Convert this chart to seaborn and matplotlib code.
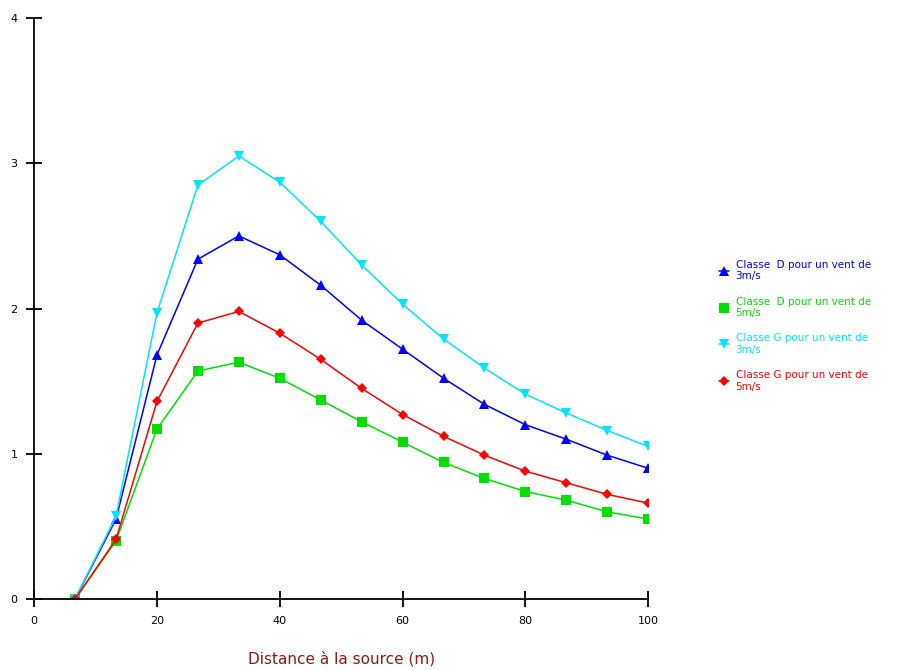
import pandas as pd
import matplotlib
matplotlib.use("Agg")
import matplotlib.pyplot as plt
import seaborn as sns

# Data
distance = [6.67, 13.33, 20, 26.67, 33.33, 40, 46.67, 53.33, 60, 66.67, 73.33, 80, 86.67, 93.33, 100]
d_3ms = [0.0, 0.55, 1.68, 2.34, 2.50, 2.37, 2.16, 1.92, 1.72, 1.52, 1.34, 1.20, 1.10, 0.99, 0.90]
d_5ms = [0.0, 0.40, 1.17, 1.57, 1.63, 1.52, 1.37, 1.22, 1.08, 0.94, 0.83, 0.74, 0.68, 0.60, 0.55]
g_3ms = [0.0, 0.57, 1.97, 2.85, 3.05, 2.87, 2.60, 2.30, 2.03, 1.79, 1.59, 1.41, 1.28, 1.16, 1.05]
g_5ms = [0.0, 0.41, 1.36, 1.90, 1.98, 1.83, 1.65, 1.45, 1.27, 1.12, 0.99, 0.88, 0.80, 0.72, 0.66]

labels = ["Classe  D pour un vent de\n3m/s", "Classe  D pour un vent de\n5m/s",
          "Classe G pour un vent de\n3m/s", "Classe G pour un vent de\n5m/s"]
series = [d_3ms, d_5ms, g_3ms, g_5ms]
colors = ["#0000ff", "#00e000", "#00e5ff", "#ff0000"]
markers = ["^", "s", "v", "D"]

df = pd.concat([pd.DataFrame({"x": distance, "y": s, "serie": lab}) for lab, s in zip(labels, series)])

sns.set_style("white")
fig = plt.figure(figsize=(8.99, 6.70), dpi=100)
ax = fig.add_axes([0.038, 0.106, 0.683, 0.867])

sns.lineplot(data=df, x="x", y="y", hue="serie", style="serie",
             palette=dict(zip(labels, colors)), markers=dict(zip(labels, markers)),
             dashes=False, linewidth=1.1, markersize=7, markeredgewidth=0, ax=ax)
# diamonds a bit smaller, like the original
ax.lines[3].set_markersize(5.5)

ax.set_xlim(0, 100)
ax.set_ylim(0, 4)
ax.set_xticks([0, 20, 40, 60, 80, 100])
ax.set_yticks([0, 1, 2, 3, 4])
for sp in ["top", "right"]:
    ax.spines[sp].set_visible(False)
for sp in ["left", "bottom"]:
    ax.spines[sp].set_linewidth(1.3)
    ax.spines[sp].set_color("black")
ax.tick_params(bottom=True, left=True, direction="inout", length=12, width=1.3,
               labelsize=8, pad=6, colors="black")
ax.set_ylabel("")
ax.set_xlabel("Distance à la source (m)", color="#8b1a1a", fontsize=11, labelpad=18)

leg = ax.legend(loc="upper left", bbox_to_anchor=(1.1, 0.6), frameon=False,
                fontsize=7.5, handlelength=1.0, handletextpad=0.6, labelspacing=1.45)
for txt, c in zip(leg.get_texts(), colors):
    txt.set_color(c)
leg.legend_handles[3].set_markersize(5.5)

fig.savefig("out.png", dpi=100)
